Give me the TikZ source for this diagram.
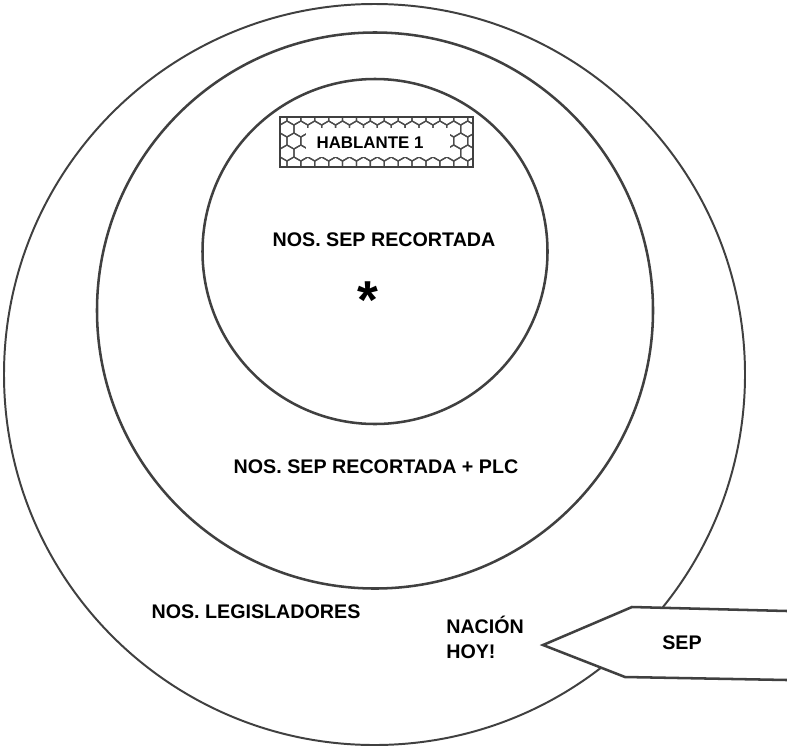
\documentclass[tikz,border=0pt]{standalone}
\usepackage{fontspec}
\setmainfont{Liberation Sans}
\usetikzlibrary{positioning}

\tikzset{
  ring/.style={draw=black!75, line width=1.8pt},
  etiqueta/.style={font=\fontsize{14}{17.8}\selectfont\bfseries, inner sep=0pt},
}

\begin{document}
\begin{tikzpicture}[x=0.025cm, y=-0.025cm]
\useasboundingbox (0,0) rectangle (787,750);
% círculos concéntricos
\draw[ring, line width=1.4pt] (374.5,374.5) circle[radius=370.5];
\draw[ring] (375,310.5) circle[radius=278];
\draw[ring] (375,251.5) circle[radius=172.5];
% flecha SEP (tapa el círculo exterior)
\filldraw[ring, fill=white] (787,611) -- (632,607) -- (543,645) -- (625,677) -- (787,680);
% caja con panal
\begin{scope}
\clip (280,117) rectangle (473,167);
\foreach \j in {0,...,5} {
  \foreach \i in {0,...,15} {
    \pgfmathsetmacro\cx{280 + \i*13.9 + mod(\j,2)*6.95}
    \pgfmathsetmacro\cy{117 + \j*12}
    \draw[black!70, line width=0.9pt, shift={(\cx,\cy)}]
      (30:8) -- (90:8) -- (150:8) -- (210:8) -- (270:8) -- (330:8) -- cycle;
  }
}
\end{scope}
\fill[white] (306,128) rectangle (450,157);
\draw[ring, line width=1.8pt] (280,117) rectangle (473,167);
\node[etiqueta, font=\fontsize{12}{14}\selectfont\bfseries] (hablante) at (370,143) {HABLANTE 1};
% textos
\node[etiqueta] (sepRec) at (384,240) {NOS. SEP RECORTADA};
\node[font=\fontsize{38}{40}\selectfont\bfseries, inner sep=0pt] (ast) at (368,300) {*};
\node[etiqueta] (sepPlc) at (376,467) {NOS. SEP RECORTADA + PLC};
\node[etiqueta] (legis) at (256,612) {NOS. LEGISLADORES};
\node[etiqueta, anchor=west, align=left] (nacion) at (446,637) {NACIÓN\\HOY!};
\node[etiqueta] (sep) at (682,643) {SEP};
\end{tikzpicture}
\end{document}
